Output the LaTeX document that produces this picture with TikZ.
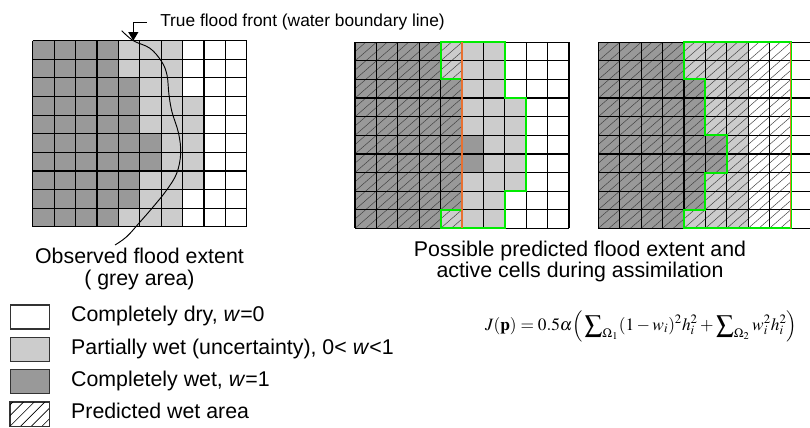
\documentclass[tikz,border=0pt]{standalone}
\usepackage{mathptmx}
\usepackage[no-math]{fontspec}
\setmainfont{Liberation Sans}
\usepackage{xcolor}
\usetikzlibrary{arrows.meta, positioning}
\definecolor{wetdark}{RGB}{153,153,153}
\definecolor{wetlight}{RGB}{204,204,204}
\definecolor{activegreen}{RGB}{0,235,0}
\definecolor{frontorange}{RGB}{232,112,48}
\newcommand{\labelsize}{\fontsize{16}{19}\selectfont}
\newcommand{\titlesize}{\fontsize{13}{15}\selectfont}
\tikzstyle{cellgrid} = [line width=0.9pt, black]
\tikzstyle{active} = [line width=1.5pt, activegreen, line join=miter]
\tikzstyle{legbox} = [draw=black!80, line width=0.8pt,
minimum width=29.5pt, minimum height=18pt, inner sep=0pt]
% cells shared by every grid (cell = 1 unit)
\newcommand{\observedcells}{%
  \fill[white] (0,0) rectangle (10,10);
  \fill[wetdark] (0,0) rectangle (5,10);
  \fill[wetdark] (5,5) rectangle (6,7);
  \fill[wetlight] (4,0) rectangle (5,2);
  \fill[wetlight] (4,9) rectangle (5,10);
  \fill[wetlight] (5,0) rectangle (6,5);
  \fill[wetlight] (5,7) rectangle (6,10);
  \fill[wetlight] (6,0) rectangle (7,10);
}
% 10 x 10 cell lines
\newcommand{\celllines}{%
  \foreach \i in {0,...,10} {
    \draw[cellgrid] (\i,0) -- (\i,10);
    \draw[cellgrid] (0,\i) -- (10,\i);
  }
}

\begin{document}
\begin{tikzpicture}[x=0.75pt, y=-0.75pt,
        node distance = 5.5pt and 15.75pt,
        % thin lines of the predicted wet area
        hatch/.style={line width=0.35pt, black!75},
        frontline/.style={line width=0.8pt, frontorange},
        legtext/.style={inner sep=0pt, text height=10pt, text depth=3pt, font=\labelsize},
    ]
    \useasboundingbox (0,0) rectangle (810,428);

    % 1. Observed flood extent (left grid)
    \begin{scope}[shift={(32.7,40.7)}, x=16.05pt, y=-13.95pt]
        \observedcells
        \fill[wetlight] (7,3) rectangle (8,8);
        \celllines
    \end{scope}

    % True flood front with its label
    \node[anchor=base west, inner sep=0pt, font=\titlesize] (front) at (160,26.7) {True flood front (water boundary line)};
    \coordinate (fronttip) at (133.3,40.7);
    \draw[line width=0.8pt, -{Triangle[length=6.5pt, width=7.5pt]}] ([xshift=-10pt]front.west) -| (fronttip);
    \draw[line width=0.7pt] plot[smooth, tension=0.6] coordinates {(121.7,30.7) (fronttip) (150,48.3) (161.7,61.7)
        (167,75) (169,95) (172,112) (178.5,133) (180.7,153.3) (176.7,173.3) (166.7,190) (153.3,206.7)
        (140,222) (126.7,236.7) (115,245)};

    \node[font=\labelsize, anchor=base] (obs) at (139.5,263.3) {Observed flood extent};
    \node[font=\labelsize, anchor=base] (grey) at (139.5,285) {( grey area)};

    % 2. Prediction up to the orange line (middle grid)
    \begin{scope}[shift={(355,42.3)}, x=16.05pt, y=-13.95pt]
        \observedcells
        \fill[wetlight] (7,3) rectangle (8,8);
        \begin{scope}
            \clip (0,0) rectangle (5,10);
            \foreach \k in {-22,...,10}
                \draw[hatch] ({\k/2},10) -- ++(12,-12);
        \end{scope}
        \celllines
        \draw[active] (4,0) -- (7,0) -- (7,3) -- (8,3) -- (8,8) -- (7,8) -- (7,10) -- (4,10) -- (4,9)
            -- (5,9) -- (5,2) -- (4,2) -- cycle;
        \draw[frontline] (5,0) -- (5,10);
    \end{scope}

    % 3. Prediction up to the orange line (right grid)
    \begin{scope}[shift={(598.3,42.3)}, x=16.05pt, y=-13.95pt]
        \observedcells
        \begin{scope}
            \clip (0,0) rectangle (9,10);
            \foreach \k in {-22,...,18}
                \draw[hatch] ({\k/2},10) -- ++(12,-12);
        \end{scope}
        \celllines
        \draw[active] (4,0) -- (9,0) -- (9,10) -- (4,10) -- (4,9) -- (5,9) -- (5,7) -- (6,7) -- (6,5)
            -- (5,5) -- (5,2) -- (4,2) -- cycle;
        \draw[frontline] (9,0) -- (9,10);
    \end{scope}

    \node[font=\labelsize, anchor=base] (poss) at (580,256) {Possible predicted flood extent and};
    \node[font=\labelsize, anchor=base] (cells) at (580,277) {active cells during assimilation};

    % 4. Legend
    \node[legbox, fill=white] (dry) at (29.7,317) {};
    \node[legbox, fill=wetlight, below=of dry] (partial) {};
    \node[legbox, fill=wetdark, below=of partial] (wet) {};
    \node[legbox, fill=white, below=of wet] (predicted) {};
    \begin{scope}
        \clip (predicted.south west) rectangle (predicted.north east);
        \foreach \k in {-2,...,3}
            \draw[line width=0.5pt] ([xshift=\k*8pt]predicted.south west) -- ++(20pt,20pt);
    \end{scope}
    \draw[draw=black!80, line width=0.8pt] (predicted.south west) rectangle (predicted.north east);

    \node[legtext, right=of dry] (drytxt) {Completely dry, \textit{w}=0};
    \node[legtext, right=of partial] (partialtxt) {Partially wet (uncertainty), 0<~\textit{w}<1};
    \node[legtext, right=of wet] (wettxt) {Completely wet, \textit{w}=1};
    \node[legtext, right=of predicted] (predictedtxt) {Predicted wet area};

    % 5. Cost function
    \node[font=\fontsize{13}{15}\selectfont] (cost) at (641,326)
        {$J(\mathbf{p}) = 0.5\alpha\Big(\displaystyle\sum\nolimits_{\Omega_1}(1-w_i)^2h_i^2+\sum\nolimits_{\Omega_2}w_i^2h_i^2\Big)$};
\end{tikzpicture}
\end{document}
